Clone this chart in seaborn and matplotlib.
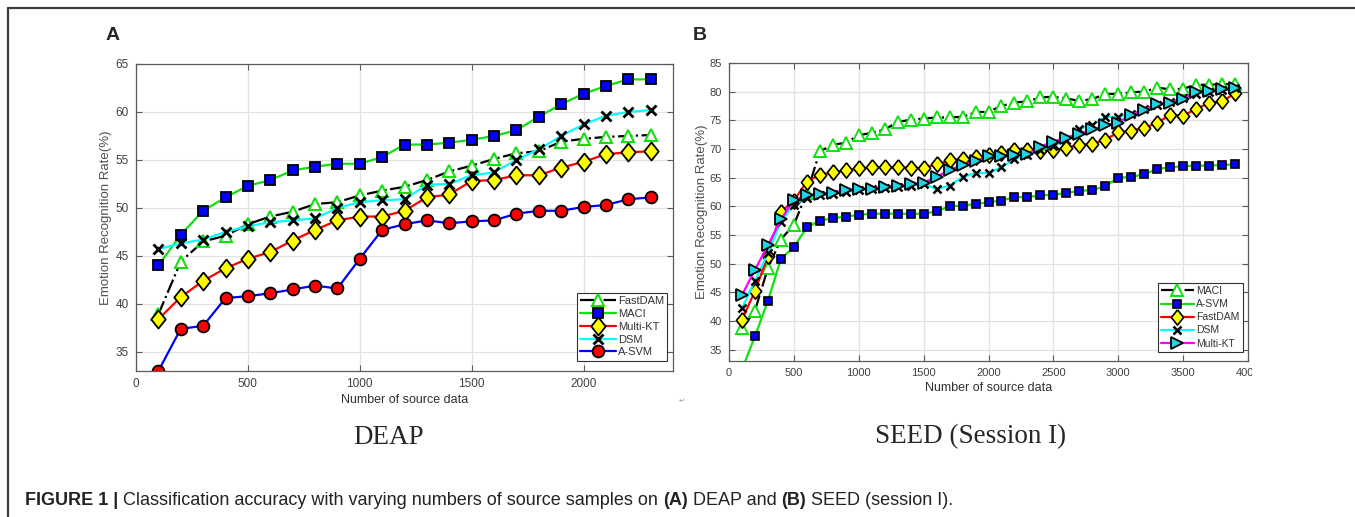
import numpy as np
import pandas as pd
import seaborn as sns
import matplotlib.pyplot as plt
from matplotlib import font_manager
from matplotlib.lines import Line2D
from matplotlib.transforms import Bbox

# ---- DEAP (panel A) ----
deap_n = [100, 200, 300, 400, 500, 600, 700, 800, 900, 1000, 1100, 1200,
          1300, 1400, 1500, 1600, 1700, 1800, 1900, 2000, 2100, 2200, 2300]
deap_fastdam = [38.9, 44.4, 46.5, 47.1, 48.3, 49.1, 49.6, 50.4, 50.6, 51.3, 51.8, 52.2,
                52.9, 53.8, 54.4, 55.1, 55.7, 55.9, 56.9, 57.2, 57.4, 57.5, 57.6]
deap_maci = [44.0, 47.2, 49.7, 51.1, 52.3, 52.9, 53.9, 54.3, 54.6, 54.6, 55.3, 56.6,
             56.6, 56.8, 57.1, 57.5, 58.1, 59.5, 60.8, 61.9, 62.7, 63.4, 63.4]
deap_multikt = [38.4, 40.7, 42.4, 43.7, 44.7, 45.4, 46.6, 47.7, 48.7, 49.1, 49.1, 49.7,
                51.1, 51.4, 52.8, 52.9, 53.4, 53.4, 54.2, 54.8, 55.6, 55.8, 55.9]
deap_dsm = [45.7, 46.3, 46.7, 47.5, 48.1, 48.5, 48.7, 48.9, 50.0, 50.6, 50.8, 50.9,
            52.4, 52.5, 53.4, 53.7, 55.0, 56.1, 57.5, 58.7, 59.6, 60.0, 60.2]
deap_asvm = [33.0, 37.4, 37.7, 40.6, 40.8, 41.1, 41.5, 41.9, 41.6, 44.7, 47.7, 48.3,
             48.7, 48.4, 48.6, 48.7, 49.4, 49.7, 49.7, 50.1, 50.3, 50.9, 51.1]

# ---- SEED session I (panel B) ----
seed_n = [100, 200, 300, 400, 500, 600, 700, 800, 900, 1000, 1100, 1200, 1300,
          1400, 1500, 1600, 1700, 1800, 1900, 2000, 2100, 2200, 2300, 2400, 2500,
          2600, 2700, 2800, 2900, 3000, 3100, 3200, 3300, 3400, 3500, 3600, 3700,
          3800, 3900]
seed_maci = [38.7, 41.8, 49.2, 54.2, 56.8, 62.3, 69.6, 70.7, 71.1, 72.4, 72.8, 73.4, 74.7,
             75.1, 75.3, 75.5, 75.5, 75.6, 76.4, 76.5, 77.5, 78.1, 78.3, 79.0, 79.1,
             78.8, 78.4, 78.7, 79.6, 79.6, 79.9, 80.0, 80.7, 80.4, 80.5, 81.2, 81.2,
             81.3, 81.3]
seed_asvm = [31.5, 37.3, 43.5, 50.8, 52.9, 56.3, 57.5, 57.9, 58.2, 58.5, 58.7, 58.7, 58.7,
             58.7, 58.7, 59.1, 60.0, 60.1, 60.4, 60.7, 61.0, 61.6, 61.6, 61.9, 62.0,
             62.3, 62.7, 62.8, 63.5, 65.0, 65.1, 65.6, 66.5, 66.8, 67.0, 67.1, 67.1,
             67.2, 67.3]
seed_fastdam = [40.2, 45.2, 51.3, 59.0, 61.0, 64.3, 65.5, 65.9, 66.3, 66.6, 66.8, 66.8, 66.8,
                66.7, 66.7, 67.3, 68.0, 68.2, 68.6, 68.9, 69.3, 69.9, 69.9, 69.6, 69.8,
                70.2, 70.7, 70.9, 71.6, 72.9, 73.2, 73.7, 74.5, 76.0, 75.8, 77.0, 78.0,
                78.3, 79.7]
seed_dsm = [42.2, 47.0, 51.8, 57.3, 60.3, 61.5, 62.0, 62.2, 62.5, 62.8, 63.0, 63.2, 63.4,
            63.6, 63.9, 63.0, 63.6, 65.1, 65.8, 65.8, 66.8, 68.2, 68.9, 69.8, 70.6,
            71.5, 73.5, 74.2, 75.6, 75.6, 76.1, 76.9, 77.6, 78.2, 78.9, 79.6, 80.0,
            80.3, 80.6]
seed_multikt = [44.5, 48.9, 53.2, 57.7, 61.1, 61.9, 62.2, 62.4, 62.8, 63.0, 63.1, 63.4, 63.5,
                63.8, 64.1, 65.1, 66.4, 67.2, 67.9, 68.7, 68.8, 68.9, 69.1, 70.4, 71.3,
                72.0, 72.6, 73.4, 74.1, 74.6, 76.0, 76.8, 77.9, 78.1, 78.8, 79.9, 80.1,
                80.4, 80.6]

deap_yticks = [35, 40, 45, 50, 55, 60, 65]
deap_xticks = [0, 500, 1000, 1500, 2000]
seed_yticks = [35, 40, 45, 50, 55, 60, 65, 70, 75, 80, 85]
seed_xticks = [0, 500, 1000, 1500, 2000, 2500, 3000, 3500, 4000]

GREEN = "#10e010"
# MATLAB style diamond: a bit narrower than tall
DIAMOND = [(0, 1), (0.8, 0), (0, -1), (-0.8, 0), (0, 1)]

sns.set_theme(style="ticks")
plt.rcParams["font.family"] = ["Liberation Sans", "DejaVu Sans"]

installed = {f.name for f in font_manager.fontManager.ttflist}
narrow = "Liberation Sans Narrow" if "Liberation Sans Narrow" in installed else "Liberation Sans"

fig = plt.figure(figsize=(13.55, 5.17), dpi=100)
W, H = 1355, 517
ax1 = fig.add_axes([136 / W, 1 - 371 / H, 537 / W, 307 / H])
ax2 = fig.add_axes([729 / W, 1 - 361 / H, 519 / W, 298 / H])

# label, values, line colour, line style, marker, face, edge, size, edge width
deap_series = [
    ("FastDAM", deap_fastdam, "black", "-.", "^", "white", GREEN, 9, 1.5),
    ("MACI", deap_maci, GREEN, "-", "s", "#0000ff", "black", 7, 1.3),
    ("Multi-KT", deap_multikt, "#ff0000", "-", DIAMOND, "#ffff00", "black", 13, 1.3),
    ("DSM", deap_dsm, "#00ffff", "-", "x", "black", "black", 6.5, 2.0),
    ("A-SVM", deap_asvm, "#0000ff", "-", "o", "#ff0000", "black", 8.5, 1.3),
]
seed_series = [
    ("MACI", seed_maci, "black", "-.", "^", "white", GREEN, 8, 1.4),
    ("A-SVM", seed_asvm, GREEN, "-", "s", "#0000ff", "black", 6, 1.2),
    ("FastDAM", seed_fastdam, "#ff0000", "-", DIAMOND, "#ffff00", "black", 11, 1.2),
    ("DSM", seed_dsm, "#00ffff", "-", "x", "black", "black", 5.5, 1.8),
    ("Multi-KT", seed_multikt, "#ff00ff", "-", ">", "#22d3e6", "black", 8, 1.3),
]

for ax, xs, series in [(ax1, deap_n, deap_series), (ax2, seed_n, seed_series)]:
    for label, vals, lc, ls, mk, mfc, mec, ms, mew in series:
        df = pd.DataFrame({"n": xs, "acc": vals})
        sns.lineplot(data=df, x="n", y="acc", ax=ax, color=lc, linestyle=ls, lw=1.6,
                     marker=mk, markerfacecolor=mfc, markeredgecolor=mec,
                     markersize=ms, markeredgewidth=mew, label=label)

ax1.set_xlim(0, 2400)
ax1.set_ylim(33, 65)
ax1.set_xticks(deap_xticks)
ax1.set_yticks(deap_yticks)
ax2.set_xlim(0, 4000)
ax2.set_ylim(33, 85)
ax2.set_xticks(seed_xticks)
ax2.set_yticks(seed_yticks)

for ax, fam, fs in [(ax1, "Liberation Sans", 8.5), (ax2, narrow, 8)]:
    ax.grid(True, color="#e2e2e2", lw=0.9)
    ax.set_axisbelow(True)
    for sp in ax.spines.values():
        sp.set_color("#5a5a5a")
        sp.set_linewidth(0.9)
    ax.tick_params(direction="in", length=4, width=0.8, color="#5a5a5a",
                   top=True, right=True, labelsize=fs, labelcolor="#404040", pad=5)
    for t in ax.get_xticklabels() + ax.get_yticklabels():
        t.set_family(fam)
    ax.set_xlabel("Number of source data", fontsize=9, color="#303030", family=fam, labelpad=3)
    ax.set_ylabel("Emotion Recognition Rate(%)", fontsize=9.5, color="#505050", family=fam)

ax1.yaxis.set_label_coords(-0.045, 0.5)
ax2.yaxis.set_label_coords(-0.040, 0.5)

ax1.legend(loc="lower right", bbox_to_anchor=(0.9894, 0.0336), borderaxespad=0,
           fontsize=8, handlelength=3.2, labelspacing=0.25, handletextpad=0.2,
           borderpad=0.3, fancybox=False, edgecolor="#333333", framealpha=1)
ax2.legend(loc="lower right", bbox_to_anchor=(0.9898, 0.0312), borderaxespad=0,
           prop={"family": narrow, "size": 7.5}, handlelength=3.2, labelspacing=0.3,
           handletextpad=0.2, borderpad=0.3, fancybox=False, edgecolor="#333333",
           framealpha=1)
for leg in [ax1.get_legend(), ax2.get_legend()]:
    leg.get_frame().set_linewidth(0.8)
    for t in leg.get_texts():
        t.set_color("#333333")

# crop the last tick label on panel B like the pasted image
fig.canvas.draw()
clip = Bbox([[0, 0], [1252, H]])
for t in ax2.get_xticklabels():
    t.set_clip_box(clip)
    t.set_clip_on(True)

# frame, panel letters, sub titles, caption
fig.add_artist(Line2D([8 / W, 1], [1 - 8 / H, 1 - 8 / H], color="#3c3c3c", lw=1.6))
fig.add_artist(Line2D([8 / W, 8 / W], [0, 1 - 8 / H], color="#3c3c3c", lw=1.6))
fig.text(113 / W, 1 - 36 / H, "A", fontsize=14, weight="bold", ha="center", va="center")
fig.text(700 / W, 1 - 36 / H, "B", fontsize=14, weight="bold", ha="center", va="center")
fig.text(389 / W, 1 - 437 / H, "DEAP", family="Liberation Serif", fontsize=19.5,
         ha="center", va="center")
fig.text(971 / W, 1 - 437 / H, "SEED (Session I)", family="Liberation Serif", fontsize=19.5,
         ha="center", va="center")
fig.text(682 / W, 1 - 401 / H, "\u21b5", family="DejaVu Sans", fontsize=5, color="#999999",
         ha="center", va="center")

caption = [("FIGURE 1 |", "bold"),
           (" Classification accuracy with varying numbers of source samples on ", "normal"),
           ("(A)", "bold"), (" DEAP and ", "normal"), ("(B)", "bold"),
           (" SEED (session I).", "normal")]
renderer = fig.canvas.get_renderer()
x = 25
for txt, wt in caption:
    t = fig.text(x / W, 1 - 505 / H, txt, fontsize=13, weight=wt, color="#222222",
                 ha="left", va="baseline")
    x = t.get_window_extent(renderer).x1

fig.savefig("out.png", dpi=100)
